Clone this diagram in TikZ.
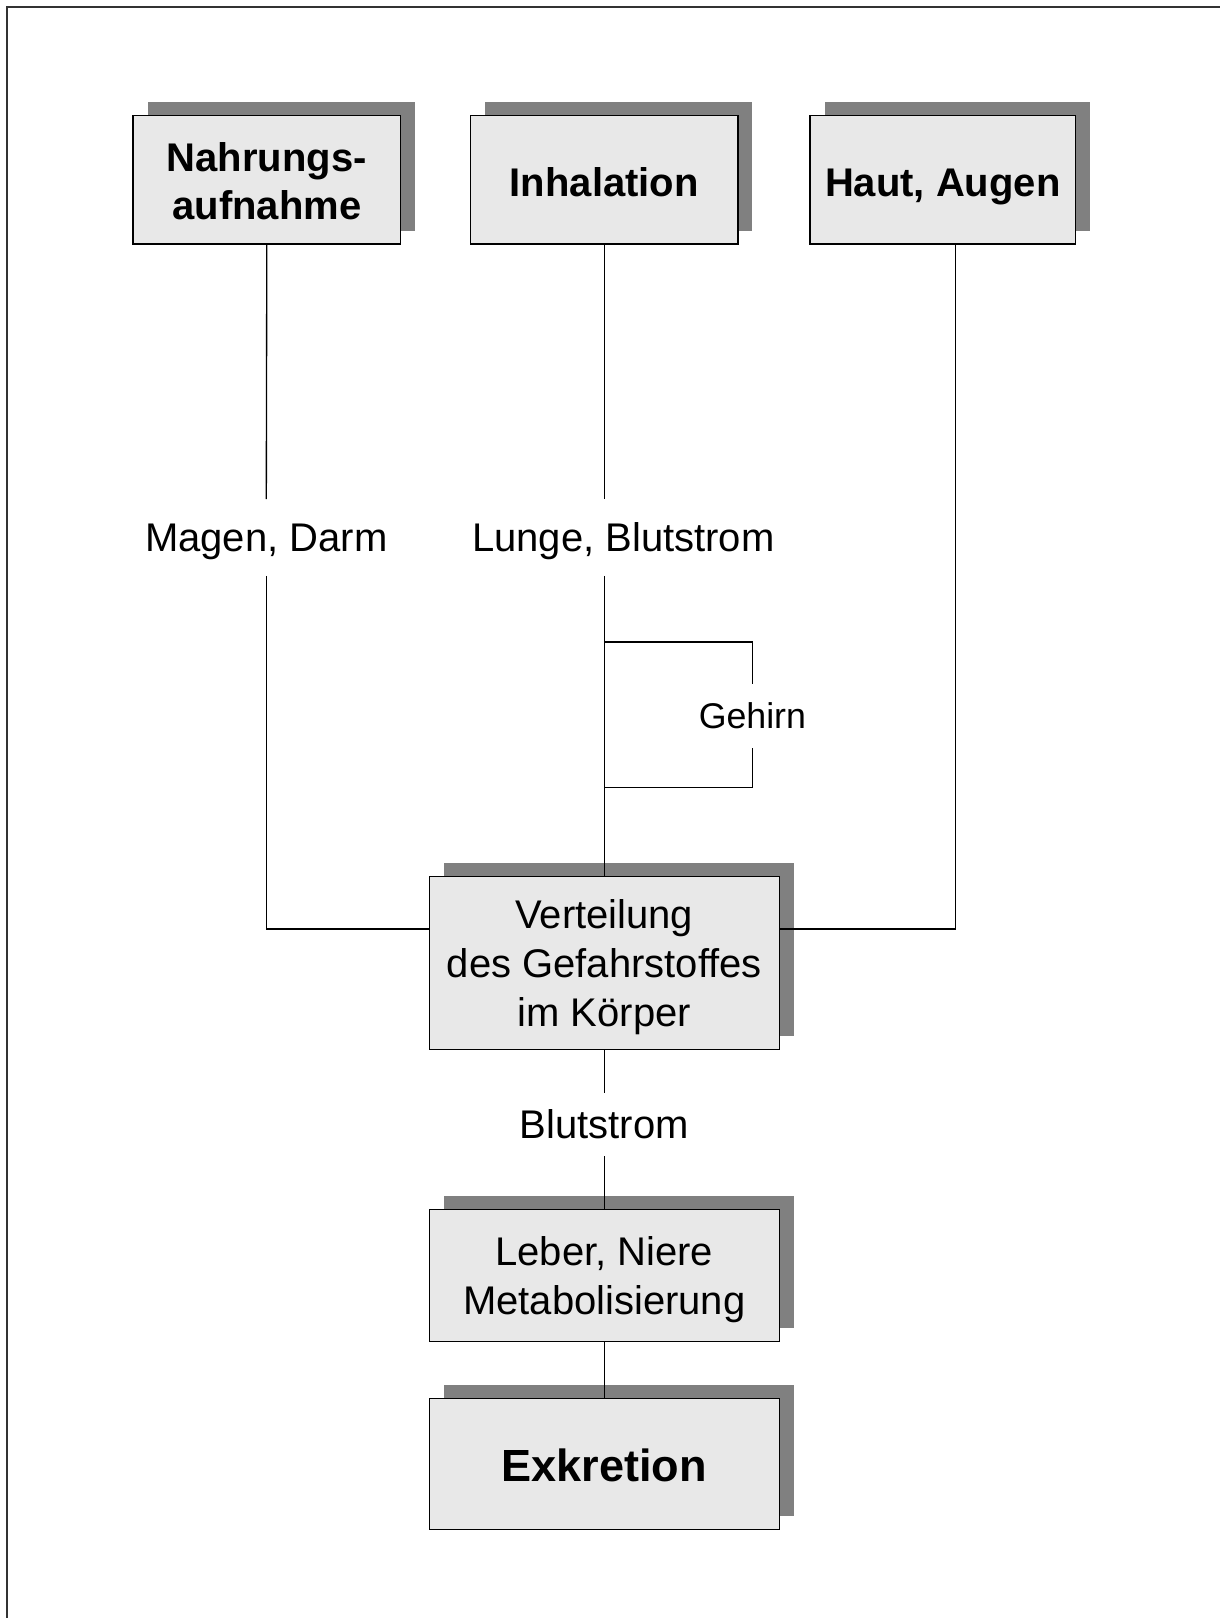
\documentclass[tikz,border=0pt]{standalone}
\usepackage{fontspec}
\setmainfont{Liberation Sans}
\usetikzlibrary{shadows}
\definecolor{boxfill}{gray}{0.91}
\definecolor{shadowgray}{gray}{0.5}
\tikzset{
  stagebox/.style={draw=black, line width=1pt, fill=boxfill, align=center,
    inner sep=0pt,
    drop shadow={shadow xshift=10.8pt, shadow yshift=10pt, fill=shadowgray, opacity=1}},
  topbox/.style={stagebox, minimum width=200.5pt, minimum height=96.3pt,
    font=\bfseries\fontsize{30}{35.6}\selectfont},
  midbox/.style={stagebox, minimum width=262.4pt,
    font=\fontsize{30}{36.4}\selectfont},
  boxtext/.style={inner sep=0pt, align=center},
  lbl/.style={inner sep=0pt, text height=21.5pt, text depth=0pt,
    font=\fontsize{30}{36}\selectfont},
  smalllbl/.style={inner sep=0pt, text height=19.2pt, text depth=0pt,
    font=\fontsize{26.8}{32}\selectfont},
  conn/.style={draw=black, line width=1pt},
}
\begin{document}
\begin{tikzpicture}[x=0.75pt,y=-0.75pt]
\useasboundingbox (0,0) rectangle (1220,1618);
\draw[line width=1.5pt, black!80] (7,1618) -- (7,7) -- (1220,7);

% top boxes
\node[topbox] (nahr) at (266.8,179.8) {};
\node[boxtext, font=\bfseries\fontsize{30}{35.6}\selectfont, yshift=-1.2pt] (nahrT) at (nahr.center) {Nahrungs-\\aufnahme};
\node[topbox, text height=24.9pt, text depth=0pt] (inh) at (604.3,179.8) {Inhalation};
\node[topbox, minimum width=199pt, text height=24.9pt, text depth=0pt] (haut) at (942.8,179.8) {Haut, Augen};

% lower boxes
\node[midbox, minimum height=130pt] (vert) at (604.3,963) {};
\node[boxtext, font=\fontsize{30}{36.4}\selectfont, yshift=-3.1pt] (vertT) at (vert.center) {Verteilung\\des Gefahrstoffes\\im Körper};
\node[midbox, minimum height=99pt] (leber) at (604.3,1275.7) {};
\node[boxtext, font=\fontsize{30}{36.4}\selectfont, yshift=-3.1pt] (leberT) at (leber.center) {Leber, Niere\\Metabolisierung};
\node[midbox, minimum height=98.3pt, text height=26.6pt, text depth=0pt,
      font=\bfseries\fontsize{33.8}{40}\selectfont] (exk) at (604.3,1464) {Exkretion};

% labels on the connectors
\node[lbl, minimum height=57.3pt] (magen) at (266.3,537.5) {Magen, Darm};
\node[lbl, minimum height=57.3pt] (lunge) at (623.4,537.5) {Lunge, Blutstrom};
\node[smalllbl, minimum height=47.5pt] (gehirn) at (752.4,716) {Gehirn};
\node[lbl, minimum height=47pt] (blut) at (604.3,1124.5) {Blutstrom};

\coordinate (jl) at (0,928.9);
\coordinate (b1) at (603.8,642);
\coordinate (b2) at (603.8,787.5);
\coordinate (hx) at (955.7,0);

% left branch
\draw[conn] (nahr.south) -- (magen.north);
\draw[conn] (magen.south) |- (vert.west |- jl);
% middle branch
\draw[conn] (inh.south) -- (inh.south |- lunge.north);
\draw[conn] (inh.south |- lunge.south) -- (vert.north);
\draw[conn] (b1) -| (gehirn.north);
\draw[conn] (b2) -| (gehirn.south);
% right branch
\draw[conn] (hx |- haut.south) |- (vert.east |- jl);
% lower chain
\draw[conn] (vert.south) -- (blut.north);
\draw[conn] (blut.south) -- (leber.north);
\draw[conn] (leber.south) -- (exk.north);
\end{tikzpicture}
\end{document}
